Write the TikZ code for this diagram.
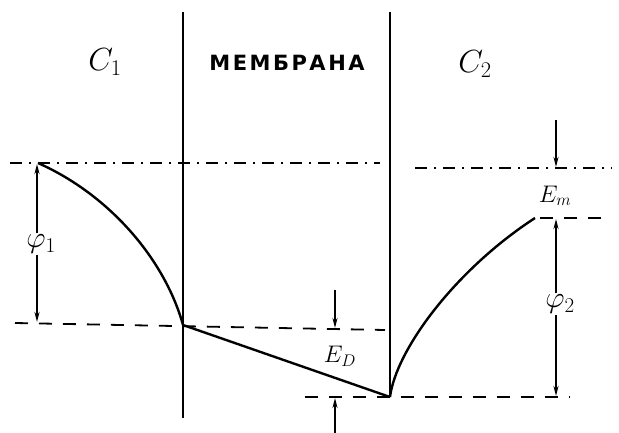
\RequirePackage{fix-cm}
\documentclass[tikz,border=0pt]{standalone}
\usepackage{fontspec}
\newfontfamily\cyrfont[LetterSpace=12]{DejaVu Sans}
\usetikzlibrary{arrows.meta}
\tikzset{
  wall/.style={line width=2.8pt},
  curve/.style={line width=2.4pt},
  level/.style={line width=1.8pt, dash pattern=on 13pt off 11pt},
  leveldot/.style={line width=1.6pt, dash pattern=on 12pt off 7pt on 2pt off 7pt},
  dim/.style={line width=2.2pt, -{Stealth[length=10pt,width=5pt]}},
  big/.style={font=\fontsize{32}{32}\selectfont},
  lbl/.style={font=\fontsize{24}{24}\selectfont},
  phil/.style={font=\fontsize{30}{30}\selectfont, inner sep=1pt}
}
\begin{document}
\begin{tikzpicture}[x=1pt,y=-1pt]
\useasboundingbox (0,0) rectangle (619,433);
% walls of the membrane
\draw[wall] (183,12) -- (183,418);
\draw[wall] (390,12) -- (390,397);
% potential levels
\draw[leveldot] (10,163) -- (380,163);
\draw[leveldot] (415,168) -- (612,168);
\draw[level] (15,323) -- (385,330);
\draw[level] (305,397) -- (570,397);
\draw[level] (540,218) -- (612,218);
% potential profile
\coordinate (a) at (38,163);
\coordinate (b) at (183,325);
\coordinate (c) at (390,397);
\coordinate (d) at (535,218);
\draw[curve] (a) .. controls (110,195) and (165,260) .. (b);
\draw[curve] (b) -- (c);
\draw[curve] (c) .. controls (396,350) and (455,270) .. (d);
% labels
\node[big] (c1) at (105,62) {$C_{1}$};
\node[font=\cyrfont\bfseries\fontsize{21}{21}\selectfont] (mem) at (287,63) {МЕМБРАНА};
\node[big] (c2) at (475,64) {$C_{2}$};
\node[phil] (phi1) at (41,244) {$\varphi_{1}$};
\node[lbl] (ed) at (340,356) {$E_{D}$};
\node[lbl] (em) at (555,196) {$E_{m}$};
\node[phil] (phi2) at (560,304) {$\varphi_{2}$};
% dimension arrows
\draw[dim] (phi1.north) ++(-4,0) coordinate (p1t) -- (37,164);
\draw[dim] (phi1.south) ++(-4,0) coordinate (p1b) -- (37,322);
\draw[dim] (335,290) -- (335,328);
\draw[dim] (335,433) -- (335,398);
\draw[dim] (556,120) -- (556,167);
\draw[dim] (phi2.north) ++(-4,0) coordinate (p2t) -- (556,219);
\draw[dim] (phi2.south) ++(-4,0) coordinate (p2b) -- (556,396);
\end{tikzpicture}
\end{document}
